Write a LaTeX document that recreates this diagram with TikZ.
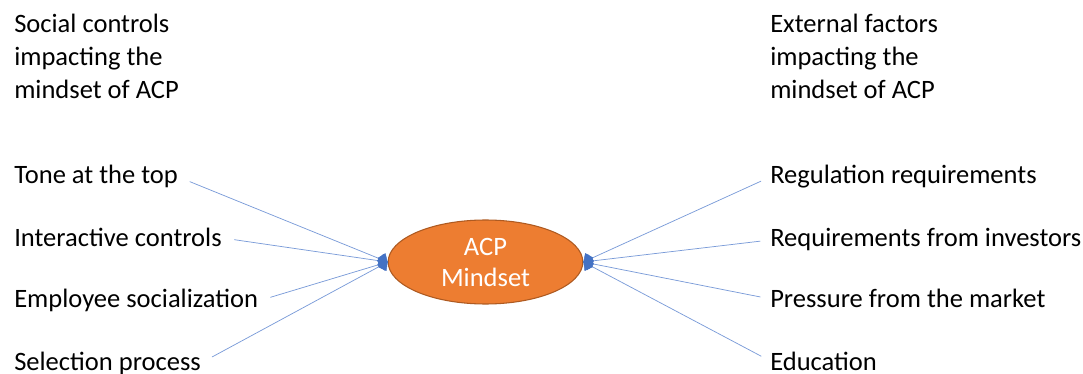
\documentclass[tikz,border=0pt]{standalone}
\usepackage{fontspec}
\setmainfont{Carlito}
\usetikzlibrary{arrows.meta,shapes.geometric}
\providecommand{\Body}{ED7D31}
\providecommand{\Rim}{AE5A21}
\providecommand{\Wire}{7A9BD8}
\providecommand{\Head}{4472C4}
\newcommand{\Px}{0.75pt}
\definecolor{body}{HTML}{\Body}
\definecolor{rim}{HTML}{\Rim}
\definecolor{wire}{HTML}{\Wire}
\definecolor{wirehead}{HTML}{\Head}

\tikzset{
  txt/.style={inner sep=0pt, anchor=base west, text=black,
    font=\fontsize{19.9}{24.75}\selectfont},
  heading/.style={txt, align=left},
  link/.style={draw=wire, line width=0.55pt,
    -{Diamond[length=8pt,width=11pt,color=wirehead,fill=wirehead,line width=0.3pt]}},
}

\begin{document}
\begin{tikzpicture}[x=\Px,y=-\Px, line join=round, line cap=round]
  \useasboundingbox (0,0) rectangle (1083,374);

  % ---- the mindset in the middle -----------------------------------------
  \node[ellipse, fill=body, draw=rim, line width=0.8pt, inner sep=0pt,
        minimum width=146pt, minimum height=63pt, text=white, align=center,
        font=\fontsize{19.9}{23.25}\selectfont] (acp) at (485.5,262) {ACP\\Mindset};

  % ---- column headings (base sits on the last line) ----------------------
  \node[heading] (socialhead) at (14,99) {Social controls\\impacting the\\mindset of ACP};
  \node[heading] (externalhead) at (770,99) {External factors\\impacting the\\mindset of ACP};

  % ---- social controls, pointing in from the left ------------------------
  \foreach \nm/\yy/\txt in {tone/184/Tone at the top,
                            inter/247/Interactive controls,
                            social/308/Employee socialization,
                            select/370/Selection process} {
    \node[txt] (\nm) at (14,\yy) {\txt};
    \draw[link, shorten <=9.5pt] (\nm.east) -- (acp.west);
  }

  % ---- external factors, pointing in from the right ----------------------
  \foreach \nm/\yy/\txt in {reg/184/Regulation requirements,
                            invest/247/Requirements from investors,
                            market/308/Pressure from the market,
                            edu/370/Education} {
    \node[txt] (\nm) at (770,\yy) {\txt};
    \draw[link, shorten <=7.5pt] (\nm.west) -- (acp.east);
  }

\end{tikzpicture}
\end{document}
